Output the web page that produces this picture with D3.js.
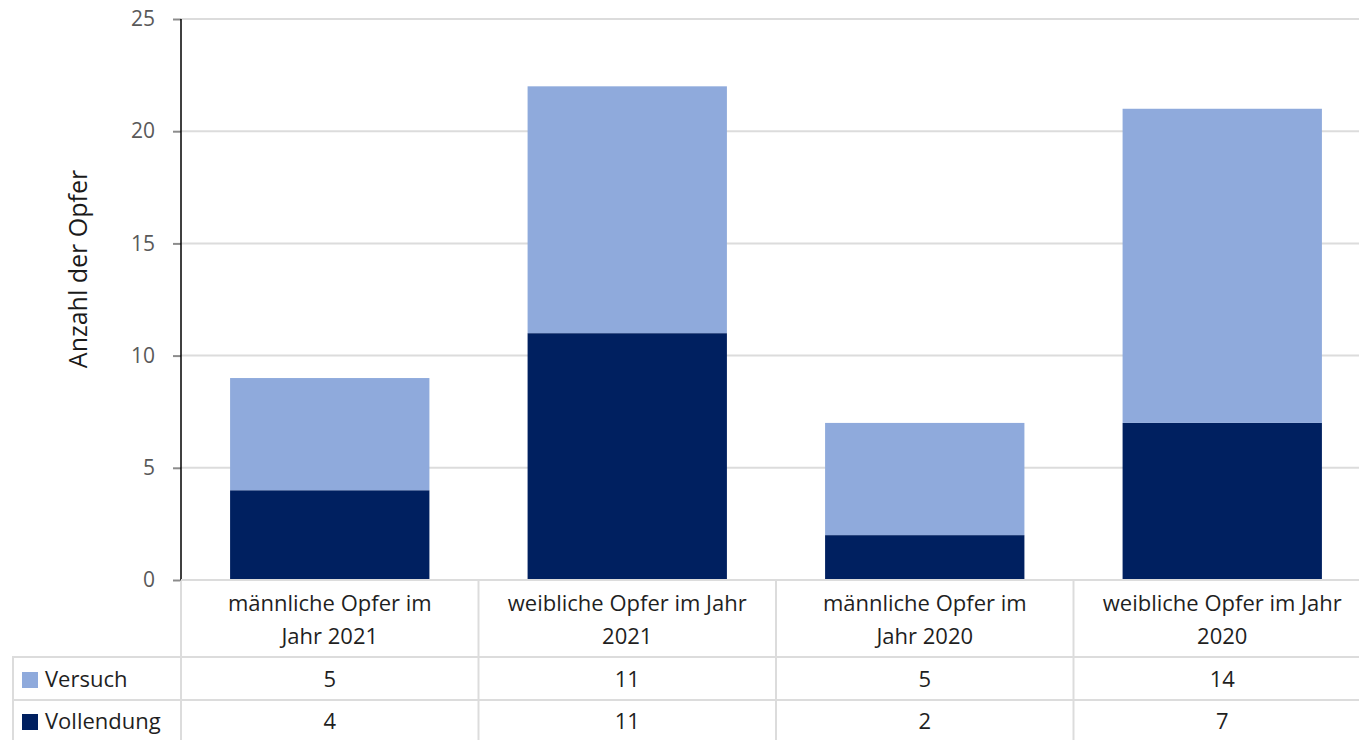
<!DOCTYPE html>
<html>
<head>
<meta charset="utf-8">
<script src="https://cdn.jsdelivr.net/npm/d3@7"></script>
<style>
body { margin: 0; background: #fff; }
text { font-family: "Open Sans", Lato, sans-serif; }
</style>
</head>
<body>
<div class="main"></div>
<script>
// data
var categories = ["männliche Opfer im Jahr 2021", "weibliche Opfer im Jahr 2021", "männliche Opfer im Jahr 2020", "weibliche Opfer im Jahr 2020"];
var categoryLines = [["männliche Opfer im", "Jahr 2021"], ["weibliche Opfer im Jahr", "2021"], ["männliche Opfer im", "Jahr 2020"], ["weibliche Opfer im Jahr", "2020"]];
var seriesNames = ["Vollendung", "Versuch"];
var vollendung = [4, 11, 2, 7];
var versuch = [5, 11, 5, 14];
var yTicks = [0, 5, 10, 15, 20, 25];
var colors = {Versuch: "#8faadc", Vollendung: "#002060"};

var W = 1359, H = 740;
var margin = {top: 19, left: 181, right: -12, bottom: 160};
var plotBottom = 580;
var fontSize = "22px";

var svg = d3.select(".main").append("svg")
	.attr("width", W).attr("height", H);

var xScale = d3.scaleBand()
	.domain(categories)
	.range([margin.left, W - margin.right])
	.paddingInner(0.33).paddingOuter(0.165);
var xBand = d3.scaleBand().domain(categories).range([margin.left, W - margin.right]);
var yScale = d3.scaleLinear().domain([0, 25]).range([plotBottom, margin.top]);

// gridlines
svg.append("g").selectAll("line")
	.data(yTicks.filter(function(d) { return d > 0; }))
	.enter().append("line")
	.attr("x1", margin.left).attr("x2", W)
	.attr("y1", function(d) { return yScale(d); })
	.attr("y2", function(d) { return yScale(d); })
	.style("stroke", "#dcdcdc").style("stroke-width", 2);

// stacked bars
var table = categories.map(function(c, i) { return {cat: c, Vollendung: vollendung[i], Versuch: versuch[i]}; });
var stack = d3.stack().keys(seriesNames)(table);
svg.append("g").selectAll("g")
	.data(stack).enter().append("g")
	.style("fill", function(d) { return colors[d.key]; })
	.selectAll("rect")
	.data(function(d) { return d; })
	.enter().append("rect")
	.attr("x", function(d) { return xScale(d.data.cat); })
	.attr("width", xScale.bandwidth())
	.attr("y", function(d) { return yScale(d[1]); })
	.attr("height", function(d) { return yScale(d[0]) - yScale(d[1]); });

// y axis
var yAxis = d3.axisLeft(yScale).tickValues(yTicks).tickSize(8).tickPadding(18);
var yg = svg.append("g")
	.attr("transform", "translate(" + margin.left + ",0)")
	.call(yAxis);
yg.select(".domain").remove();
yg.selectAll(".tick line").style("stroke", "#8c8c8c").style("stroke-width", 2);
yg.selectAll(".tick text").style("font-size", "21px").style("fill", "#595959")
	.style("font-family", "'Open Sans', Lato, sans-serif");
svg.append("line")
	.attr("x1", margin.left).attr("x2", margin.left)
	.attr("y1", margin.top).attr("y2", plotBottom)
	.style("stroke", "#000").style("stroke-width", 1.5);

// y axis title
svg.append("text")
	.attr("transform", "translate(87,269) rotate(-90)")
	.attr("text-anchor", "middle")
	.style("font-size", "25px").style("fill", "#1a1a1a")
	.text("Anzahl der Opfer");

// data table
var rowY = [plotBottom, 657, 700, H + 2];
var gridColor = "#dcdcdc";
var tg = svg.append("g");
// horizontal lines
tg.append("line").attr("x1", margin.left).attr("x2", W).attr("y1", rowY[0]).attr("y2", rowY[0])
	.style("stroke", gridColor).style("stroke-width", 2);
[rowY[1], rowY[2]].forEach(function(y) {
	tg.append("line").attr("x1", 12).attr("x2", W).attr("y1", y).attr("y2", y)
		.style("stroke", gridColor).style("stroke-width", 2);
});
// vertical lines
tg.append("line").attr("x1", 13).attr("x2", 13).attr("y1", rowY[1]).attr("y2", H)
	.style("stroke", gridColor).style("stroke-width", 2);
tg.selectAll(".vline").data(categories).enter().append("line")
	.attr("class", "vline")
	.attr("x1", function(d) { return xBand(d) + xBand.bandwidth(); })
	.attr("x2", function(d) { return xBand(d) + xBand.bandwidth(); })
	.attr("y1", rowY[0]).attr("y2", H)
	.style("stroke", gridColor).style("stroke-width", 2);
tg.append("line").attr("x1", margin.left).attr("x2", margin.left).attr("y1", rowY[0] + 1).attr("y2", H)
	.style("stroke", gridColor).style("stroke-width", 2);

// category labels
tg.selectAll(".catlabel").data(categories).enter().append("text")
	.attr("class", "catlabel")
	.attr("text-anchor", "middle")
	.style("font-size", fontSize).style("fill", "#1f1f1f")
	.each(function(d, i) {
		var t = d3.select(this);
		categoryLines[i].forEach(function(line, j) {
			t.append("tspan")
				.attr("x", xBand(d) + xBand.bandwidth() / 2)
				.attr("y", 611 + j * 33)
				.text(line);
		});
	});

// value rows
var rows = [{name: "Versuch", values: versuch, y: 687}, {name: "Vollendung", values: vollendung, y: 729}];
rows.forEach(function(r) {
	tg.append("rect").attr("x", 22).attr("y", r.y - 15).attr("width", 16).attr("height", 16)
		.style("fill", colors[r.name]);
	tg.append("text").attr("x", 45).attr("y", r.y)
		.style("font-size", fontSize).style("fill", "#1f1f1f").text(r.name);
	tg.selectAll(null).data(r.values).enter().append("text")
		.attr("x", function(d, i) { return xBand(categories[i]) + xBand.bandwidth() / 2; })
		.attr("y", r.y)
		.attr("text-anchor", "middle")
		.style("font-size", fontSize).style("fill", "#1f1f1f")
		.text(function(d) { return d; });
});
</script>
</body>
</html>
